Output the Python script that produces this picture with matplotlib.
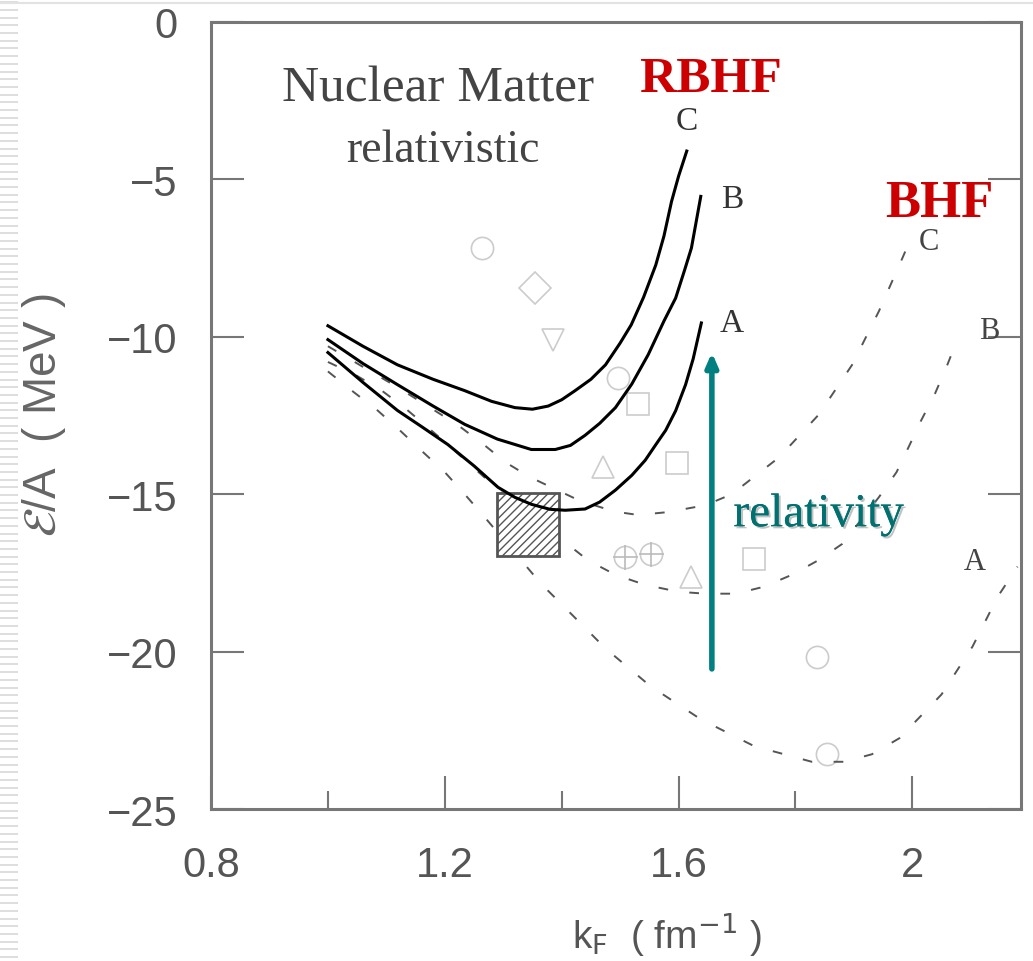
import numpy as np
import matplotlib
matplotlib.use('Agg')
import matplotlib.pyplot as plt
from matplotlib.patches import Rectangle
import matplotlib.patheffects as pe

#~~~~~~~~ data ~~~~~~~~
# RBHF (solid) curves, kF [fm^-1] vs E/A [MeV]
kf_rA = [1.00, 1.06, 1.119, 1.16, 1.205, 1.25, 1.291, 1.32, 1.348, 1.38, 1.406, 1.44,
         1.465, 1.492, 1.52, 1.543, 1.562, 1.578, 1.595, 1.612, 1.625, 1.639]
e_rA = [-10.5, -11.45, -12.34, -12.85, -13.42, -14.1, -14.78, -15.1, -15.32, -15.48, -15.51, -15.47,
        -15.25, -14.87, -14.4, -13.92, -13.4, -12.97, -12.35, -11.52, -10.7, -9.56]
kf_rB = [1.00, 1.06, 1.119, 1.18, 1.234, 1.29, 1.348, 1.389, 1.415, 1.44, 1.465, 1.492,
         1.52, 1.548, 1.575, 1.595, 1.61, 1.622, 1.638]
e_rB = [-10.09, -10.85, -11.52, -12.2, -12.78, -13.25, -13.58, -13.58, -13.45, -13.13, -12.75, -12.25,
        -11.5, -10.57, -9.5, -8.77, -7.9, -7.18, -5.54]
kf_rC = [1.00, 1.06, 1.119, 1.18, 1.234, 1.28, 1.32, 1.35, 1.377, 1.40, 1.423, 1.45,
         1.475, 1.50, 1.519, 1.54, 1.561, 1.575, 1.588, 1.60, 1.614]
e_rC = [-9.65, -10.3, -10.89, -11.35, -11.71, -12.05, -12.25, -12.3, -12.2, -12.0, -11.71, -11.35,
        -10.89, -10.2, -9.62, -8.75, -7.72, -6.8, -5.7, -4.9, -4.1]

# BHF (dashed) curves
kf_bA = [1.00, 1.045, 1.085, 1.123, 1.159, 1.20, 1.234, 1.265, 1.365, 1.399, 1.475, 1.552,
         1.638, 1.729, 1.828, 1.883, 1.931, 1.978, 2.05, 2.103, 2.146, 2.18]
e_bA = [-11.1, -11.77, -12.34, -12.97, -13.6, -14.3, -15.0, -15.66, -17.85, -18.48, -19.9, -21.1,
        -22.15, -23.0, -23.5, -23.5, -23.26, -22.75, -21.36, -19.84, -18.26, -17.3]
kf_bB = [1.00, 1.046, 1.09, 1.131, 1.171, 1.205, 1.30, 1.411, 1.445, 1.492, 1.543, 1.60,
         1.646, 1.698, 1.746, 1.794, 1.84, 1.88, 1.943, 1.973, 1.995, 2.015, 2.038, 2.058, 2.077]
e_bB = [-10.8, -11.2, -11.68, -12.25, -12.88, -13.42, -15.0, -16.6, -17.1, -17.56, -17.88, -18.1,
        -18.16, -18.16, -17.94, -17.56, -17.09, -16.58, -15.09, -14.3, -13.45, -12.66, -11.84, -10.98, -10.09]
kf_bC = [1.00, 1.119, 1.222, 1.265, 1.305, 1.346, 1.43, 1.49, 1.531, 1.581, 1.646, 1.691,
         1.772, 1.84, 1.897, 1.943, 1.983, 1.99]
e_bC = [-10.3, -11.6, -12.8, -13.4, -14.0, -14.46, -15.2, -15.55, -15.66, -15.57, -15.35, -15.0,
        -13.83, -12.47, -10.89, -9.18, -7.5, -7.2]

# other calculations (grey symbols)
sym_kf = [1.264, 1.355, 1.385, 1.497, 1.531, 1.597, 1.471, 1.552, 1.509, 1.621, 1.729, 1.837, 1.854]
sym_e = [-7.18, -8.45, -10.1, -11.3, -12.15, -14.0, -14.15, -16.9, -17.0, -17.63, -17.06, -20.16, -23.26]
sym_m = ['o', 'D', 'v', 'o', 's', 's', '^', 'o', 'o', '^', 's', 'o', 'o']
cross_kf = [1.552, 1.509]
cross_e = [-16.9, -17.0]

# empirical saturation box
box_kf = (1.29, 1.395)
box_e = (-16.95, -14.95)

curve_names = ['A', 'B', 'C']
#~~~~~~~~~~~~~~~~~~~~~~~~~~~~~~~~~~~~~~~~~~

serif = ['Liberation Serif', 'DejaVu Serif']
sans = ['Liberation Sans', 'DejaVu Sans']
grey = '#777777'

fig = plt.figure(figsize=(10.33, 9.62), dpi=100)

# slide decoration: striped left edge and thin top rule
deco = fig.add_axes([0, 0, 18 / 1033, 1])
deco.set_xlim(0, 1)
deco.set_ylim(0, 962)
deco.hlines(np.arange(4, 962, 7.7), 0, 1, color='#d8d8d8', lw=1.2)
deco.axis('off')
fig.add_artist(plt.Line2D([0, 1], [0.996, 0.996], color='#e2e2e2', lw=1.5))

ax = fig.add_axes([0.2043, 0.158, 0.7841, 0.8181])

for kf, e in [(kf_rA, e_rA), (kf_rB, e_rB), (kf_rC, e_rC)]:
    ax.plot(kf, e, '-', color='black', lw=2.2, zorder=4)
for kf, e in [(kf_bA, e_bA), (kf_bB, e_bB), (kf_bC, e_bC)]:
    ax.plot(kf, e, color='#555555', lw=1.4, ls=(0, (5, 11)), zorder=3)

for k, e, m in zip(sym_kf, sym_e, sym_m):
    ax.plot(k, e, m, ms=16, mfc='none', mec='#cccccc', mew=1.2, zorder=2)
ax.plot(cross_kf, cross_e, '+', ms=18, mec='#bbbbbb', mew=1.2, ls='none', zorder=2)

ax.add_patch(Rectangle((box_kf[0], box_e[0]), box_kf[1] - box_kf[0], box_e[1] - box_e[0],
                       facecolor='white', edgecolor='#555555', hatch='////', lw=2, zorder=3))

# curve labels
for name, x, y in zip(curve_names, [1.691, 1.691, 1.614], [-9.56, -5.6, -3.13]):
    ax.text(x, y, name, family=serif, fontsize=24, color='#333333', ha='center', va='center')
for name, x, y in zip(curve_names, [2.106, 2.132, 2.029], [-17.15, -9.81, -6.96]):
    ax.text(x, y, name, family=serif, fontsize=22, color='#444444', ha='center', va='center')

ax.text(1.188, -2.12, 'Nuclear Matter', family=serif, fontsize=37, color='#444444',
        ha='center', va='center')
ax.text(1.197, -4.05, 'relativistic', family=serif, fontsize=33, color='#444444',
        ha='center', va='center')
ax.text(1.655, -1.8, 'RBHF', family=serif, fontsize=37, fontweight='bold', color='#cc0000',
        ha='center', va='center')
ax.text(2.046, -5.76, 'BHF', family=serif, fontsize=38, fontweight='bold', color='#cc0000',
        ha='center', va='center')

ax.annotate('', xy=(1.657, -10.5), xytext=(1.657, -20.55),
            arrowprops=dict(arrowstyle='-|>,head_width=0.35,head_length=0.8', color='#008080',
                            lw=4, shrinkA=0, shrinkB=0), zorder=5)
ax.text(1.84, -15.66, 'relativity', family=serif, fontsize=34, color='#007070',
        ha='center', va='center', zorder=6,
        path_effects=[pe.withSimplePatchShadow(offset=(1.5, -1.5), shadow_rgbFace='#999999', alpha=0.6),
                      pe.Normal()])

ax.set_xlim(0.8, 2.186)
ax.set_ylim(-25, 0)
ax.set_xticks([0.8, 1.2, 1.6, 2.0])
ax.set_xticklabels(['0.8', '1.2', '1.6', '2'])
ax.set_xticks([1.0, 1.4, 1.8], minor=True)
ax.set_yticks([0, -5, -10, -15, -20, -25])
ax.set_yticklabels(['0', '\u22125', '\u221210', '\u221215', '\u221220', '\u221225'])

ax.tick_params(which='major', direction='in', length=24, width=1.5, color=grey,
               labelsize=30, labelcolor='#555555', right=True, pad=24)
ax.tick_params(which='minor', direction='in', length=13, width=1.5, color=grey)
ax.tick_params(axis='x', which='major', pad=26)
for lab in ax.get_xticklabels() + ax.get_yticklabels():
    lab.set_family(sans)
for s in ax.spines.values():
    s.set_color(grey)
    s.set_linewidth(2.2)

fig.text(667 / 1033, 1 - 935 / 962, r'k$_{\rm F}$  ( fm$^{-1}$ )', family=sans, fontsize=28,
         color='#555555', ha='center', va='center')
fig.text(44 / 1033, 1 - 415 / 962, r'$\mathcal{E}$/A  ( MeV )', family=sans, fontsize=33,
         color='#666666', ha='center', va='center', rotation=90)

fig.savefig('out.png', dpi=100)
